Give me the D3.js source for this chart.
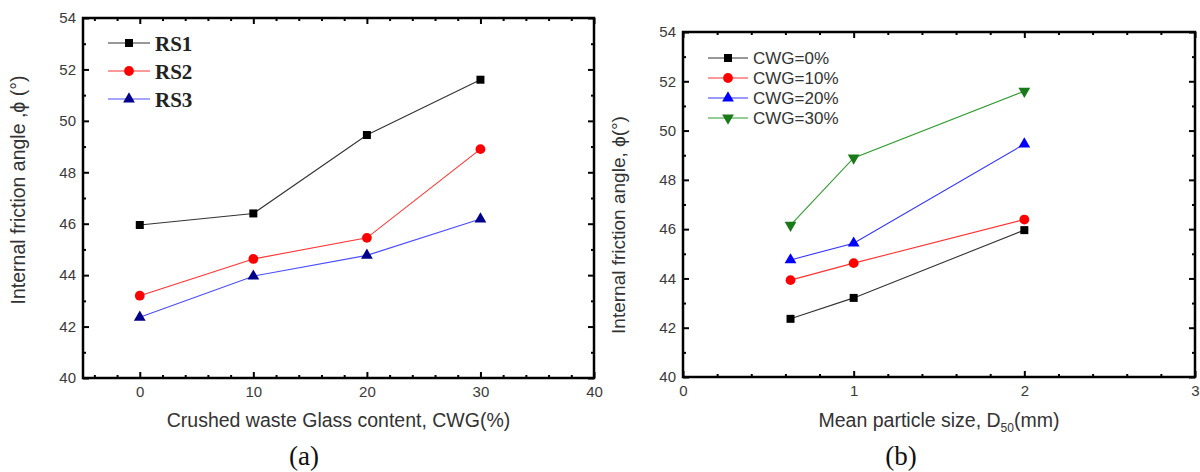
<!DOCTYPE html>
<html lang="en">
<head>
  <meta charset="UTF-8">
  <title>Internal friction angle</title>
  <script src="https://d3js.org/d3.v7.min.js"></script>
  <style>
    body { margin: 0; background: #fff; }
    svg text { font-family: "Liberation Sans", Arial, sans-serif; }
  </style>
</head>
<body>
  <svg width="1200" height="472"></svg>

  <script>
    // panel (a): friction angle vs crushed glass content
    const cwgContent = [0, 10, 20, 30];
    const rs1 = [45.95, 46.4, 49.45, 51.6];
    const rs2 = [43.2, 44.63, 45.45, 48.9];
    const rs3 = [42.36, 43.96, 44.77, 46.18];
    const seriesA = ["RS1", "RS2", "RS3"];

    // panel (b): friction angle vs mean particle size
    const d50 = [0.63, 1, 2];
    const cwg0 = [42.36, 43.21, 45.96];
    const cwg10 = [43.93, 44.62, 46.39];
    const cwg20 = [44.75, 45.43, 49.45];
    const cwg30 = [46.16, 48.89, 51.6];
    const seriesB = ["CWG=0%", "CWG=10%", "CWG=20%", "CWG=30%"];

    const yTicks = [40, 42, 44, 46, 48, 50, 52, 54];
    const yMinor = [41, 43, 45, 47, 49, 51, 53];

    const svg = d3.select("svg");

    // draw one framed panel with inward ticks on all four sides
    function drawPanel(opt) {
      const x = d3.scaleLinear().domain(opt.xDomain).range([opt.left, opt.right]);
      const y = d3.scaleLinear().domain([40, 54]).range([opt.bottom, opt.top]);
      const g = svg.append("g");

      const styleAxis = sel => {
        sel.select(".domain").remove();
        sel.selectAll("line").attr("stroke", "#000").attr("stroke-width", 2);
        sel.selectAll("text").attr("fill", "#3a3a3a").style("font-size", "15px")
          .style("font-family", "'Liberation Sans', Arial, sans-serif");
      };

      // major ticks with labels
      g.append("g").attr("transform", `translate(0,${opt.bottom})`)
        .call(d3.axisBottom(x).tickValues(opt.xTicks).tickSize(-6).tickPadding(8).tickFormat(d3.format("d")))
        .call(styleAxis);
      g.append("g").attr("transform", `translate(${opt.left},0)`)
        .call(d3.axisLeft(y).tickValues(yTicks).tickSize(-6).tickPadding(7))
        .call(styleAxis);
      g.append("g").attr("transform", `translate(0,${opt.top})`)
        .call(d3.axisTop(x).tickValues(opt.xTicks).tickSize(-6).tickFormat(""))
        .call(styleAxis);
      g.append("g").attr("transform", `translate(${opt.right},0)`)
        .call(d3.axisRight(y).tickValues(yTicks).tickSize(-6).tickFormat(""))
        .call(styleAxis);

      // minor ticks
      g.append("g").attr("transform", `translate(0,${opt.bottom})`)
        .call(d3.axisBottom(x).tickValues(opt.xMinor).tickSize(-3).tickFormat(""))
        .call(styleAxis);
      g.append("g").attr("transform", `translate(0,${opt.top})`)
        .call(d3.axisTop(x).tickValues(opt.xMinor).tickSize(-3).tickFormat(""))
        .call(styleAxis);
      g.append("g").attr("transform", `translate(${opt.left},0)`)
        .call(d3.axisLeft(y).tickValues(yMinor).tickSize(-3).tickFormat(""))
        .call(styleAxis);
      g.append("g").attr("transform", `translate(${opt.right},0)`)
        .call(d3.axisRight(y).tickValues(yMinor).tickSize(-3).tickFormat(""))
        .call(styleAxis);

      // frame
      g.append("rect")
        .attr("x", opt.left).attr("y", opt.top)
        .attr("width", opt.right - opt.left).attr("height", opt.bottom - opt.top)
        .attr("fill", "none").attr("stroke", "#000").attr("stroke-width", 2.5);

      // series lines + markers
      const line = d3.line().x(d => x(d[0])).y(d => y(d[1]));
      opt.series.forEach(s => {
        const pts = opt.xs.map((v, i) => [v, s.values[i]]);
        g.append("path").datum(pts)
          .attr("d", line).attr("fill", "none")
          .attr("stroke", s.line).attr("stroke-width", 1.1);
        g.selectAll(null).data(pts).enter().append("path")
          .attr("d", d3.symbol().type(s.symbol).size(s.size))
          .attr("transform", d => `translate(${x(d[0])},${y(d[1])})${s.flip ? " rotate(180)" : ""}`)
          .attr("fill", s.fill);
      });

      // legend
      opt.series.forEach((s, i) => {
        const ly = opt.legend.y + i * opt.legend.step;
        g.append("line")
          .attr("x1", opt.legend.x).attr("x2", opt.legend.x + opt.legend.len)
          .attr("y1", ly).attr("y2", ly)
          .attr("stroke", s.line).attr("stroke-width", 1.1);
        g.append("path")
          .attr("d", d3.symbol().type(s.symbol).size(s.size))
          .attr("transform", `translate(${opt.legend.x + opt.legend.len / 2},${ly})${s.flip ? " rotate(180)" : ""}`)
          .attr("fill", s.fill);
        g.append("text")
          .attr("x", opt.legend.x + opt.legend.len + 5).attr("y", ly)
          .attr("dy", "0.36em")
          .attr("fill", opt.legend.color)
          .style("font-family", opt.legend.font)
          .style("font-weight", opt.legend.weight)
          .style("font-size", opt.legend.size)
          .text(s.name);
      });

      return g;
    }

    // ---- panel (a)
    const gA = drawPanel({
      left: 83, right: 594, top: 18, bottom: 378,
      xDomain: [-5, 40], xTicks: [0, 10, 20, 30, 40],
      xMinor: [-4, -2, 2, 4, 6, 8, 12, 14, 16, 18, 22, 24, 26, 28, 32, 34, 36, 38],
      xs: cwgContent,
      series: [
        { name: seriesA[0], values: rs1, line: "#333", fill: "#000", symbol: d3.symbolSquare, size: 64 },
        { name: seriesA[1], values: rs2, line: "#ff3333", fill: "#ff0000", symbol: d3.symbolCircle, size: 75 },
        { name: seriesA[2], values: rs3, line: "#4d4dff", fill: "#00008b", symbol: d3.symbolTriangle, size: 60 }
      ],
      legend: { x: 108, y: 43, step: 28, len: 42, color: "#222",
        font: "'Liberation Serif', 'Times New Roman', serif", weight: "bold", size: "21px" }
    });

    gA.append("text")
      .attr("transform", "translate(25,190) rotate(-90)")
      .attr("text-anchor", "middle").attr("fill", "#333").style("font-size", "19.5px")
      .text("Internal friction angle ,ϕ (°)");
    gA.append("text")
      .attr("x", 338.5).attr("y", 427)
      .attr("text-anchor", "middle").attr("fill", "#333").style("font-size", "19.5px")
      .text("Crushed waste Glass content, CWG(%)");
    gA.append("text")
      .attr("x", 304).attr("y", 465)
      .attr("text-anchor", "middle").attr("fill", "#111")
      .style("font-family", "'Liberation Serif', 'Times New Roman', serif").style("font-size", "27px")
      .text("(a)");

    // ---- panel (b)
    const gB = drawPanel({
      left: 683, right: 1195, top: 32, bottom: 377,
      xDomain: [0, 3], xTicks: [0, 1, 2, 3],
      xMinor: [0.2, 0.4, 0.6, 0.8, 1.2, 1.4, 1.6, 1.8, 2.2, 2.4, 2.6, 2.8],
      xs: d50,
      series: [
        { name: seriesB[0], values: cwg0, line: "#333", fill: "#000", symbol: d3.symbolSquare, size: 64 },
        { name: seriesB[1], values: cwg10, line: "#ff3333", fill: "#ff0000", symbol: d3.symbolCircle, size: 75 },
        { name: seriesB[2], values: cwg20, line: "#3333ff", fill: "#0000ff", symbol: d3.symbolTriangle, size: 60 },
        { name: seriesB[3], values: cwg30, line: "#2e9b2e", fill: "#1a7a1a", symbol: d3.symbolTriangle, size: 60, flip: true }
      ],
      legend: { x: 708, y: 58, step: 20, len: 40, color: "#333",
        font: "'Liberation Sans', Arial, sans-serif", weight: "normal", size: "17px" }
    });

    gB.append("text")
      .attr("transform", "translate(625,225) rotate(-90)")
      .attr("text-anchor", "middle").attr("fill", "#333").style("font-size", "19px")
      .text("Internal friction angle, ϕ(°)");
    const xt = gB.append("text")
      .attr("x", 939).attr("y", 427)
      .attr("text-anchor", "middle").attr("fill", "#333").style("font-size", "19.5px");
    xt.append("tspan").text("Mean particle size, D");
    xt.append("tspan").attr("dy", 5).style("font-size", "12px").text("50");
    xt.append("tspan").attr("dy", -5).text("(mm)");
    gB.append("text")
      .attr("x", 901).attr("y", 465)
      .attr("text-anchor", "middle").attr("fill", "#111")
      .style("font-family", "'Liberation Serif', 'Times New Roman', serif").style("font-size", "27px")
      .text("(b)");
  </script>
</body>
</html>
